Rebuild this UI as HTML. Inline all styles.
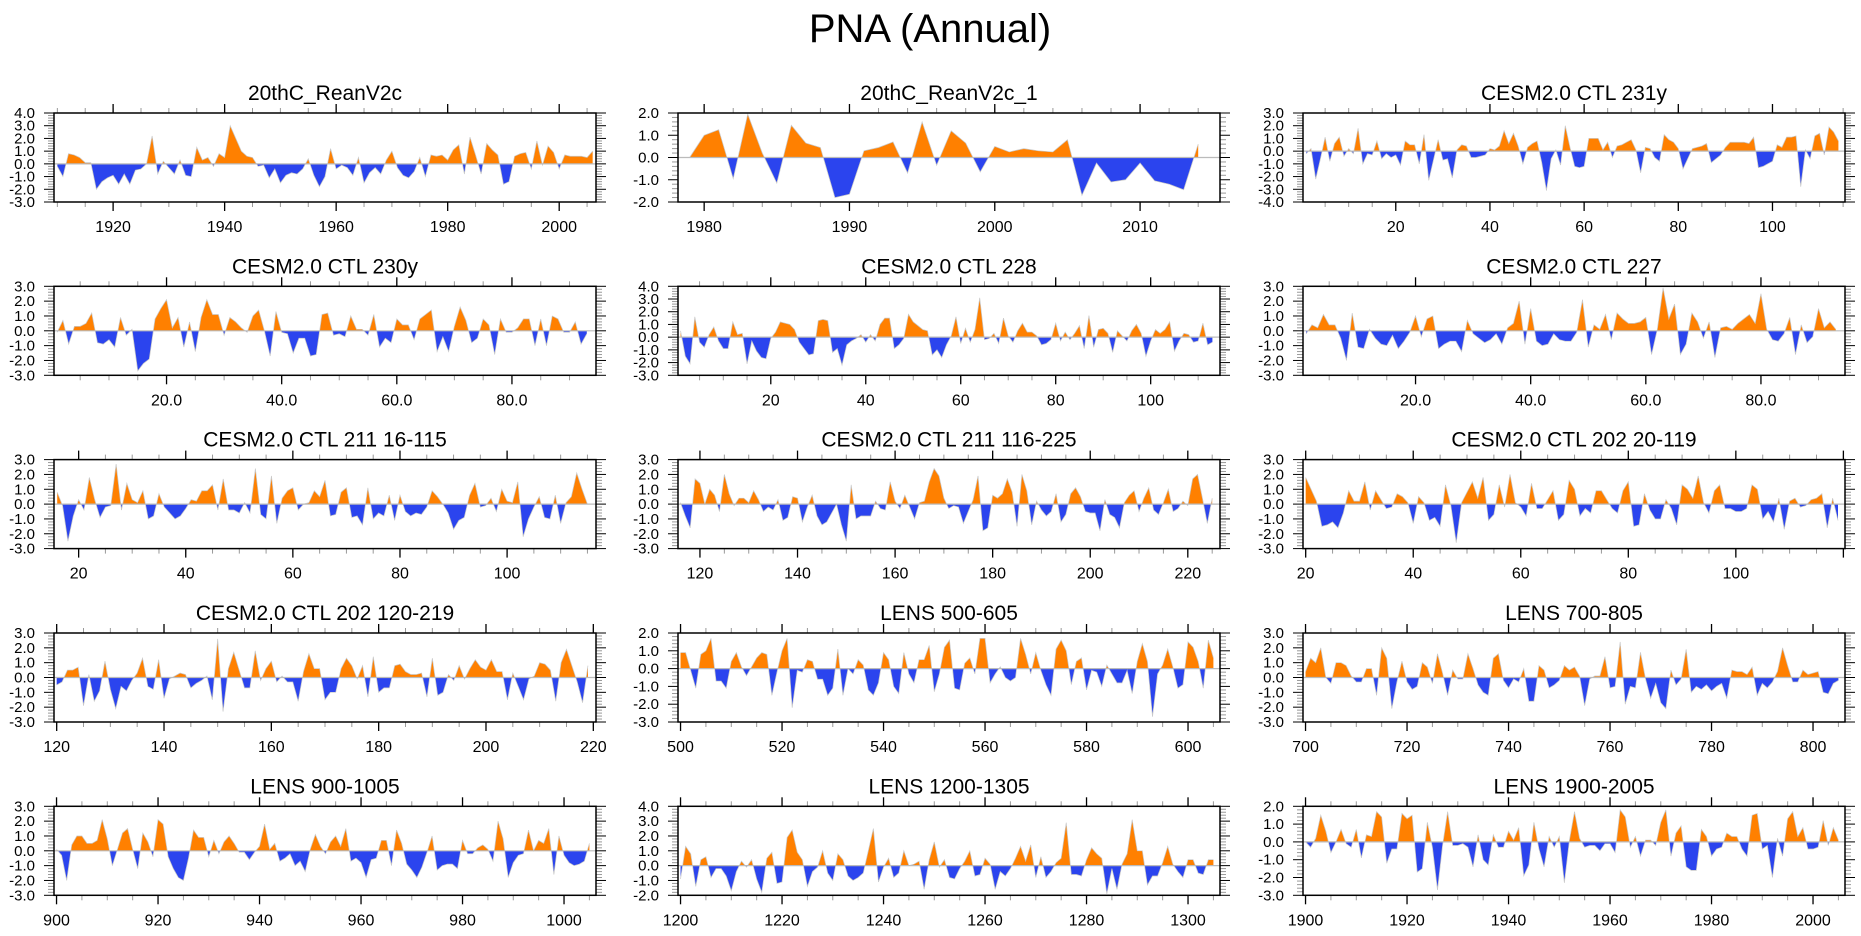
<!DOCTYPE html>
<html><head><meta charset="utf-8"><title>PNA (Annual)</title>
<style>
html,body{margin:0;padding:0;background:#fff;}
svg{display:block;font-family:"Liberation Sans",Arial,sans-serif;}
</style></head>
<body>
<svg id="fig" xmlns="http://www.w3.org/2000/svg" width="1861" height="936" viewBox="0 0 1861 936">
<rect x="0" y="0" width="1861" height="936" fill="#fff"/>
<text x="930" y="42" text-anchor="middle" font-size="40" fill="#000">PNA (Annual)</text>
</svg>
<script>
// ---------- data ----------
const titles = ["20thC_ReanV2c","20thC_ReanV2c_1","CESM2.0 CTL 231y","CESM2.0 CTL 230y","CESM2.0 CTL 228","CESM2.0 CTL 227","CESM2.0 CTL 211 16-115","CESM2.0 CTL 211 116-225","CESM2.0 CTL 202 20-119","CESM2.0 CTL 202 120-219","LENS 500-605","LENS 700-805","LENS 900-1005","LENS 1200-1305","LENS 1900-2005"];
const xFirst = [1910,1979,1,1,1,1,16,116,20,120,500,700,900,1200,1900];
const xMin = [1909.4,1978.2,0.3,0.45,0.46,0.45,15.4,115.5,19.5,119.5,499.5,699.5,899.5,1199.5,1899.5];
const xMax = [2006.6,2015.5,115.4,94.6,114.6,94.6,116.6,226.6,120.3,220.5,606.3,806.3,1006.3,1306.3,2006.3];
const yMin = [-3,-2,-4,-3,-3,-3,-3,-3,-3,-3,-3,-3,-3,-2,-3];
const yMax = [4,2,3,3,4,3,3,3,3,3,2,3,3,4,2];
const xTicks = [
 [1920,1940,1960,1980,2000],[1980,1990,2000,2010],[20,40,60,80,100],[20,40,60,80],[20,40,60,80,100],[20,40,60,80],
 [20,40,60,80,100],[120,140,160,180,200,220],[20,40,60,80,100,120],[120,140,160,180,200,220],
 [500,520,540,560,580,600],[700,720,740,760,780,800],[900,920,940,960,980,1000],[1200,1220,1240,1260,1280,1300],[1900,1920,1940,1960,1980,2000]];
const xTickLabels = [
 ["1920","1940","1960","1980","2000"],["1980","1990","2000","2010"],["20","40","60","80","100"],["20.0","40.0","60.0","80.0"],["20","40","60","80","100"],["20.0","40.0","60.0","80.0"],
 ["20","40","60","80","100"],["120","140","160","180","200","220"],["20","40","60","80","100",""],["120","140","160","180","200","220"],
 ["500","520","540","560","580","600"],["700","720","740","760","780","800"],["900","920","940","960","980","1000"],["1200","1220","1240","1260","1280","1300"],["1900","1920","1940","1960","1980","2000"]];
const xMinorStep = [5,2,5,5,5,5,5,5,5,5,5,5,5,5,5];

const s1 = [-0.2,-1.0,0.8,0.7,0.5,0.1,0.1,-2.0,-1.4,-1.1,-0.9,-1.6,-0.8,-1.6,-0.5,-0.4,0.0,2.2,-0.8,0.2,-0.3,-0.8,0.3,-0.9,-1.0,1.3,0.3,0.5,-0.2,0.8,0.5,3.0,2.0,1.0,0.6,0.5,-0.2,-0.1,-1.1,-0.4,-1.5,-0.9,-0.7,-0.8,-0.4,0.4,-0.9,-1.8,-1.0,1.2,-0.4,-0.1,-0.3,-0.9,0.5,-1.5,-0.7,-0.3,-0.8,0.3,1.0,-0.3,-0.9,-1.1,-0.6,0.5,-1.0,0.7,0.6,0.7,0.3,1.1,1.5,-0.8,2.1,0.7,-0.8,1.6,1.1,0.7,-1.6,-1.4,0.6,0.8,0.9,-0.4,1.8,-0.1,1.4,0.9,-0.4,0.7,0.6,0.6,0.6,0.5,1.0];
const s2 = [0.0,1.0,1.25,-0.95,1.95,0.2,-1.15,1.45,0.65,0.45,-1.8,-1.65,0.3,0.45,0.7,-0.7,1.6,-0.35,1.2,0.65,-0.65,0.5,0.25,0.4,0.3,0.25,0.8,-1.7,-0.25,-1.1,-1.0,-0.25,-1.05,-1.2,-1.45,0.6];
const s3 = [-0.2,0.2,-2.2,-0.6,1.1,-0.8,0.6,1.1,-0.4,0.2,-0.2,1.8,-1.0,-0.2,-0.3,0.8,-0.6,-0.2,-0.5,-0.3,-1.1,0.8,0.5,0.5,-1.0,1.3,-2.3,-0.7,0.9,-0.7,-0.6,-2.1,0.1,0.5,0.4,-0.5,-0.5,-0.4,-0.3,0.2,0.1,0.4,1.6,0.6,1.4,0.4,-1.0,0.3,0.6,0.8,-0.9,-3.1,-0.6,0.1,-1.1,2.0,0.3,-1.2,-1.3,-1.2,1.0,1.0,1.0,0.1,0.7,-0.5,0.4,0.5,0.7,0.9,0.1,-1.7,0.3,0.2,-0.5,-0.8,1.3,0.9,0.7,0.2,-1.4,-0.6,0.2,0.3,0.4,0.6,-0.9,-0.6,-0.3,0.3,0.7,0.7,0.7,0.7,0.6,1.1,-1.3,-1.2,-1.0,-0.8,0.5,0.3,1.1,1.1,1.2,-2.8,0.1,-0.6,1.2,1.4,-0.3,1.9,1.5,0.8];
const s4 = [-0.1,0.7,-0.9,0.3,0.3,0.5,1.2,-0.8,-0.9,-0.6,-1.1,0.9,-0.3,0.1,-2.7,-2.2,-1.9,0.8,1.5,2.1,0.2,0.9,-1.1,0.6,-1.4,0.9,2.1,1.1,1.1,-0.3,0.9,0.6,0.2,-0.1,1.0,1.4,0.0,-1.7,1.3,-0.1,-0.2,-1.5,-0.5,-0.5,-1.7,-1.6,1.1,1.2,-0.3,-0.2,-0.4,1.0,0.1,0.1,-0.3,1.1,-1.1,-0.5,-0.8,0.8,0.4,0.4,-0.6,0.8,1.1,1.4,-1.4,-0.4,-1.4,0.3,1.6,0.7,-0.8,-0.5,0.8,0.4,-1.6,0.8,-0.1,-0.1,0.2,0.8,0.8,-1.0,0.8,-1.0,1.0,0.8,-0.1,-0.1,0.6,-0.9,-0.2];
const s5 = [0.5,-1.5,-2.1,1.6,-0.4,-0.8,0.2,0.8,-0.3,-0.9,-0.9,1.2,0.2,0.3,-2.1,-0.3,-1.1,-1.6,-1.7,-0.1,0.4,1.2,1.1,1.0,0.6,-0.4,-0.9,-1.4,-1.3,1.3,1.4,1.3,-1.2,-0.9,-2.2,-0.6,-0.3,-0.1,0.2,-0.4,0.2,-0.3,1.0,1.5,1.5,-0.9,-0.6,-0.1,1.8,1.2,0.9,0.6,0.5,-1.4,-1.0,-1.6,-0.6,0.1,1.6,-0.5,0.7,-0.4,0.6,3.1,-0.2,-0.1,0.3,-0.5,1.5,0.1,-0.4,0.5,1.1,0.4,0.4,0.1,-0.6,-0.5,-0.2,1.1,-0.3,0.4,-0.2,0.3,0.9,-0.9,1.7,-0.8,0.6,0.7,0.3,-1.2,0.5,0.1,-0.3,0.5,1.0,0.3,-1.5,-0.3,0.6,0.3,0.6,1.2,-1.1,-0.3,0.3,0.2,-0.4,-0.3,1.1,-0.6,-0.4];
const s6 = [-0.2,0.4,0.2,1.1,0.4,0.4,-0.5,-2.0,1.2,-1.1,-1.2,0.1,-0.5,-0.9,-1.0,-0.3,-1.2,-0.7,-0.1,1.0,-0.4,0.8,1.0,-1.2,-0.9,-0.7,-0.7,-1.4,0.7,-0.2,-0.5,-0.8,-0.6,-0.2,-0.9,0.2,0.5,2.0,-0.9,1.5,-0.7,-1.0,-0.9,-0.2,-0.6,-0.7,-0.7,-0.1,2.1,-1.1,0.4,0.1,1.1,-0.6,1.2,0.8,0.5,0.5,0.6,0.9,-1.6,0.1,2.9,0.8,1.8,-1.6,-0.9,1.2,0.6,-0.5,0.6,-1.8,0.2,0.3,0.1,0.5,0.8,1.1,0.5,2.5,0.1,-0.6,-0.7,-0.2,0.9,-1.6,0.4,-0.8,-0.4,1.5,0.2,0.6,0.1];
const s7 = [0.8,-0.1,-2.5,-0.8,0.3,-0.4,1.8,0.3,-0.9,-0.2,-0.1,2.7,-0.4,1.4,0.3,0.1,0.9,-1.0,-0.8,0.7,-0.2,-0.6,-1.0,-0.8,-0.3,0.3,0.2,0.9,0.9,1.3,-0.4,1.7,-0.4,-0.4,-0.6,0.1,-0.6,2.4,-0.7,-1.0,1.9,-1.3,0.4,0.9,1.1,-0.4,0.0,0.1,0.9,0.5,1.6,-0.8,-0.7,0.8,1.1,-0.9,-0.8,-1.4,1.1,-1.0,-0.6,-0.8,0.6,-1.1,0.6,-0.5,-0.8,-0.6,-0.7,-0.2,0.9,0.5,0.0,-0.6,-1.7,-1.1,-0.9,0.6,1.4,-0.2,-0.1,0.4,-0.5,1.0,0.2,0.1,1.5,-2.2,-1.0,-0.2,0.5,-0.9,-1.0,0.6,-1.3,0.1,0.5,2.1,1.0,0.0];
const s8 = [0.1,-0.8,-1.6,1.7,1.4,0.0,1.0,0.6,-0.5,2.0,0.7,-0.1,0.4,0.4,0.1,0.9,0.3,-0.5,-0.2,-0.4,0.3,-1.1,-0.9,0.5,0.4,-1.2,-0.2,0.6,-0.8,-1.4,-1.2,-0.6,0.0,-1.4,-2.5,1.3,-1.0,-0.8,-0.8,-0.8,0.2,-0.3,-0.4,1.5,0.2,-0.3,0.6,-0.2,-1.0,0.1,0.2,1.5,2.4,1.9,0.4,-0.3,-0.1,-0.2,-1.3,-0.5,0.3,1.9,-1.8,-1.6,0.6,0.4,0.7,1.7,0.8,-1.5,2.0,0.9,-1.4,0.2,-0.4,-0.8,-0.5,0.7,-1.2,-0.7,0.7,1.1,0.5,-0.5,-0.6,-0.6,-1.8,0.3,-0.7,-0.9,-1.6,0.1,0.6,0.9,-0.5,0.4,1.1,-0.4,-0.7,0.1,1.0,-0.5,-0.3,0.2,-0.1,1.7,2.0,0.4,-1.3,0.4];
const s9 = [1.8,1.0,0.2,-1.5,-1.4,-1.2,-1.6,-0.6,0.9,0.2,0.2,1.5,-0.4,0.9,0.3,-0.3,-0.2,0.7,0.5,0.1,-1.3,0.5,0.1,-1.1,-0.9,-1.5,1.3,-0.1,-2.6,0.1,0.8,1.5,0.4,1.8,-1.1,-0.7,1.3,-0.2,2.0,0.1,-0.2,-0.8,1.4,-0.3,-0.3,0.3,0.9,-1.1,-0.7,1.6,1.0,-0.8,-0.3,-0.6,0.9,0.9,0.3,-0.3,-0.6,0.9,1.5,-1.5,-1.4,0.7,-0.4,-1.0,-1.0,0.3,-0.3,-1.4,1.3,1.0,0.4,1.9,0.1,-0.6,0.9,1.3,-0.3,-0.3,-0.5,-0.5,-0.3,1.3,1.0,-1.0,-0.5,-1.2,0.4,-1.7,0.2,0.4,-0.2,-0.1,0.3,0.4,0.7,-1.6,0.4,-1.1];
const s10 = [-0.5,-0.3,0.5,0.5,0.7,-1.9,0.2,-1.6,-0.9,1.1,-0.8,-2.1,-0.6,-0.9,-0.2,0.3,1.3,-0.6,-0.8,1.2,-1.4,-0.1,0.1,0.3,0.2,-0.7,-0.4,-0.2,0.1,-1.5,2.6,-2.3,0.6,1.7,0.5,-0.7,-0.7,1.8,-0.2,0.6,1.1,-0.3,0.1,-0.3,-0.3,-1.6,0.4,1.6,0.6,0.6,-1.5,-1.0,-1.0,0.6,1.3,0.8,-0.1,0.8,-1.3,1.4,-1.0,-0.7,-0.7,0.8,0.9,0.4,0.2,0.2,0.3,-1.3,1.3,-1.2,-1.0,0.2,-0.2,0.8,-0.1,0.6,1.2,0.7,0.5,1.2,0.4,0.4,-1.5,0.3,-0.6,-1.5,-0.1,0.1,1.0,0.9,0.5,-1.6,1.0,1.9,0.8,-0.3,-1.7,0.8];
const s11 = [0.9,0.9,-0.1,-1.1,0.8,1.0,1.7,-0.7,-0.7,-1.1,0.4,0.9,0.1,-0.4,0.1,0.6,0.9,0.8,-1.5,-0.2,1.0,1.7,-2.2,-0.1,-0.2,0.5,0.4,-0.6,-0.6,-1.5,-1.1,1.1,-1.5,0.0,-0.3,0.5,0.2,-1.2,-1.5,-0.8,0.9,0.5,-1.0,-1.4,0.9,-0.3,-0.8,0.5,0.5,1.3,-1.3,-0.3,1.2,1.6,-1.1,-1.2,0.3,0.6,-0.3,1.7,1.7,-0.8,-0.3,0.1,-0.5,-0.7,-0.5,1.7,0.8,-0.3,0.9,-0.1,-0.9,-1.5,1.1,1.6,1.0,-0.9,0.4,0.6,-1.2,-0.1,-0.2,-1.0,0.2,-0.3,-0.8,-0.8,-0.1,-1.4,0.4,1.4,0.4,-2.7,-0.3,0.2,1.1,0.1,-1.1,-0.9,1.5,1.2,0.4,-1.1,1.6,0.6];
const s12 = [0.4,1.3,1.0,2.0,0.0,-0.4,1.0,1.0,0.8,0.1,-0.3,-0.3,0.6,0.6,-1.2,2.0,1.3,-2.1,-0.3,1.1,-0.3,-0.8,-0.6,1.0,0.7,-0.4,1.6,0.3,-1.2,0.5,-0.1,-0.1,1.6,0.6,-0.5,-1.0,-1.2,1.3,1.6,-0.2,-0.7,-0.1,-0.3,0.6,-1.6,-1.6,0.8,0.5,-0.7,-0.5,-0.2,0.8,0.5,0.7,0.1,-1.9,-0.1,0.1,0.1,1.4,-0.7,-0.6,2.4,-1.8,-0.6,-0.7,1.7,-0.1,-1.4,-0.4,-1.7,-2.1,0.5,-0.5,-0.1,1.9,-1.0,-0.6,-0.8,-0.5,-0.9,-0.6,-0.4,-1.4,0.5,0.4,0.4,0.2,0.7,-1.2,-0.4,-0.7,-0.3,0.4,2.0,0.8,-0.3,-0.3,0.5,0.2,0.3,0.4,-1.0,-1.1,-0.4,-0.2];
const s13 = [0.1,-0.3,-2.0,0.4,1.0,1.0,0.5,0.5,0.7,2.1,0.8,-1.0,0.1,1.2,1.5,0.1,-1.2,1.2,0.6,-0.4,2.1,1.8,-0.4,-1.2,-1.8,-2.0,-0.5,1.4,0.9,0.9,-0.4,0.7,-0.2,0.6,1.0,0.5,-0.1,-0.1,-0.6,-0.1,0.3,1.8,0.1,0.5,-0.7,-0.5,-0.2,-1.0,-0.7,-1.4,0.1,1.1,0.3,-0.2,0.6,1.0,0.3,1.5,-0.7,-0.5,-0.8,-1.8,-0.6,-0.5,0.7,0.7,-1.0,1.4,0.5,-0.9,-1.3,-1.8,-1.1,-0.1,1.0,-1.3,-1.0,-0.9,-0.9,-1.2,0.7,-0.2,-0.2,0.2,0.4,0.1,-0.7,2.0,0.8,-1.8,-0.8,-0.3,-0.2,1.4,0.0,0.7,0.5,1.5,-1.6,1.0,-0.3,-0.8,-1.0,-0.9,-0.7,0.5];
const s14 = [-0.9,1.3,0.8,-1.4,0.4,0.6,-0.8,-0.2,-0.2,-0.7,-1.7,-0.4,0.3,-0.1,0.4,-0.9,-1.8,0.5,0.9,-1.2,-1.1,1.9,2.4,0.9,0.4,-1.4,-0.4,-0.1,1.0,-0.5,-1.0,0.8,0.4,-0.7,-1.0,-0.8,-0.5,1.0,2.5,-1.1,-0.1,0.5,-0.8,-0.5,1.0,0.0,0.1,0.3,-1.6,0.4,1.6,-0.1,0.4,-0.8,-0.9,-0.2,0.3,1.0,-0.7,-0.6,0.5,0.1,-1.6,-0.4,-0.7,-0.2,0.5,1.3,0.3,1.4,-0.8,0.6,-0.8,-0.4,0.2,0.5,2.9,-0.6,-0.6,-0.7,0.4,1.2,0.8,0.5,-1.9,-0.2,-1.6,0.1,0.8,3.1,1.0,1.0,-1.3,-0.7,-0.7,0.2,1.3,0.1,-0.4,-0.8,0.4,0.4,-0.5,-0.6,0.4,0.4];
const s15 = [0.0,-0.3,0.2,1.5,0.6,-0.6,0.0,0.7,-0.1,-0.3,0.7,-0.9,0.4,0.3,1.7,1.4,-1.2,-0.4,-0.4,1.6,1.3,1.5,-1.7,-1.5,1.1,-0.3,-2.7,-0.2,1.7,-0.2,-0.2,-0.1,-0.3,-1.4,0.4,-1.0,-1.3,0.4,-0.3,-0.3,0.6,0.1,0.8,-1.9,-1.3,1.1,-0.4,-1.4,0.3,-0.3,0.3,-2.3,0.1,1.7,0.2,-0.3,-0.2,-0.2,-0.5,-0.1,-0.1,-0.6,1.8,1.4,-0.3,0.3,-0.8,0.1,0.1,-0.2,1.1,1.8,-0.8,0.5,0.9,-1.4,-1.6,-1.6,0.7,0.3,-0.8,-0.4,-0.3,0.5,0.3,0.3,-0.4,-0.8,1.5,1.6,-0.4,-0.2,-2.0,0.2,-0.8,1.3,1.7,0.3,0.8,-0.4,-0.4,-0.3,1.2,-0.2,0.8,0.1];
const series = [s1,s2,s3,s4,s5,s6,s7,s8,s9,s10,s11,s12,s13,s14,s15];

// ---------- layout ----------
const colLeft = [54,678,1303];
const rowTop = [113,286.3,459.6,633,806.3];
const PW = 542, PH = 89;
const ORANGE = "#ff8000", BLUE = "#2b44ee";
const NS = "http://www.w3.org/2000/svg";
const svg = document.getElementById("fig");

function mk(tag, attrs, parent){
  const el = document.createElementNS(NS, tag);
  for (const k in attrs) el.setAttribute(k, attrs[k]);
  (parent||svg).appendChild(el);
  return el;
}

for (let p = 0; p < 15; p++) {
  const L = colLeft[p % 3], T = rowTop[Math.floor(p / 3)];
  const R = L + PW, B = T + PH;
  const sx = v => L + (v - xMin[p]) / (xMax[p] - xMin[p]) * PW;
  const sy = v => B - (v - yMin[p]) / (yMax[p] - yMin[p]) * PH;
  const slug = titles[p].toLowerCase().replace(/[^a-z0-9]+/g, "-");

  const g = mk("g", {});
  
  

  const t = mk("text", {x: (L + R) / 2, y: T - 13, "text-anchor": "middle", "font-size": 21, fill: "#000"}, g);
  t.textContent = titles[p];
  
  

  const d = series[p];
  const y0 = sy(0);
  let path = "M" + sx(xFirst[p]).toFixed(2) + "," + y0.toFixed(2);
  for (let i = 0; i < d.length; i++) path += " L" + sx(xFirst[p] + i).toFixed(2) + "," + sy(d[i]).toFixed(2);
  path += " L" + sx(xFirst[p] + d.length - 1).toFixed(2) + "," + y0.toFixed(2) + " Z";

  const cpU = mk("clipPath", {id: "cu" + p}, g);
  mk("rect", {x: L, y: T, width: PW, height: y0 - T}, cpU);
  const cpD = mk("clipPath", {id: "cd" + p}, g);
  mk("rect", {x: L, y: y0, width: PW, height: B - y0}, cpD);

  const pos = mk("path", {d: path, fill: ORANGE, "clip-path": "url(#cu" + p + ")"}, g);
  
  
  const neg = mk("path", {d: path, fill: BLUE, "clip-path": "url(#cd" + p + ")"}, g);
  
  

  let lp = "";
  for (let i = 0; i < d.length; i++) lp += (i ? " L" : "M") + sx(xFirst[p] + i).toFixed(2) + "," + sy(d[i]).toFixed(2);
  const ln = mk("path", {d: lp, fill: "none", stroke: "#c8c8c8", "stroke-width": 0.7}, g);
  
  

  const zl = mk("line", {x1: L, x2: R, y1: y0, y2: y0, stroke: "#bbbbbb", "stroke-width": 1.2}, g);
  
  

  for (let k = 0; ; k++) {
    const v = yMin[p] + k * 0.2;
    if (v > yMax[p] + 1e-6) break;
    const major = Math.abs(v - Math.round(v)) < 1e-6;
    const len = major ? 10 : 6;
    const yy = sy(v);
    const col = major ? "#000" : "#999";
    const lt = mk("line", {x1: L - len, x2: L, y1: yy, y2: yy, stroke: col, "stroke-width": 1}, g);
    
    
    const rt = mk("line", {x1: R, x2: R + len, y1: yy, y2: yy, stroke: col, "stroke-width": 1}, g);
    
    
    if (major) {
      const yl = mk("text", {x: L - 19, y: yy + 5, "text-anchor": "end", "font-size": 15, fill: "#000"}, g);
      yl.textContent = Math.round(v).toFixed(1);
      
      
    }
  }

  const st = xMinorStep[p];
  for (let v = Math.ceil(xMin[p] / st) * st; v <= xMax[p]; v += st) {
    const xx = sx(v);
    const a = mk("line", {x1: xx, x2: xx, y1: B, y2: B + 5, stroke: "#999", "stroke-width": 1}, g);
    
    
    const b = mk("line", {x1: xx, x2: xx, y1: T - 5, y2: T, stroke: "#999", "stroke-width": 1}, g);
    
    
  }
  xTicks[p].forEach((v, i) => {
    const xx = sx(v);
    const a = mk("line", {x1: xx, x2: xx, y1: B, y2: B + 9, stroke: "#000", "stroke-width": 1.3}, g);
    
    
    const b = mk("line", {x1: xx, x2: xx, y1: T - 9, y2: T, stroke: "#000", "stroke-width": 1.3}, g);
    
    
    if (xTickLabels[p][i]) {
      const xl = mk("text", {x: xx, y: B + 30, "text-anchor": "middle", "font-size": 16, fill: "#000"}, g);
      xl.textContent = xTickLabels[p][i];
      
      
    }
  });

  const fr = mk("rect", {x: L, y: T, width: PW, height: PH, fill: "none", stroke: "#000", "stroke-width": 1.5}, g);
  
  
}
</script>
</body></html>
